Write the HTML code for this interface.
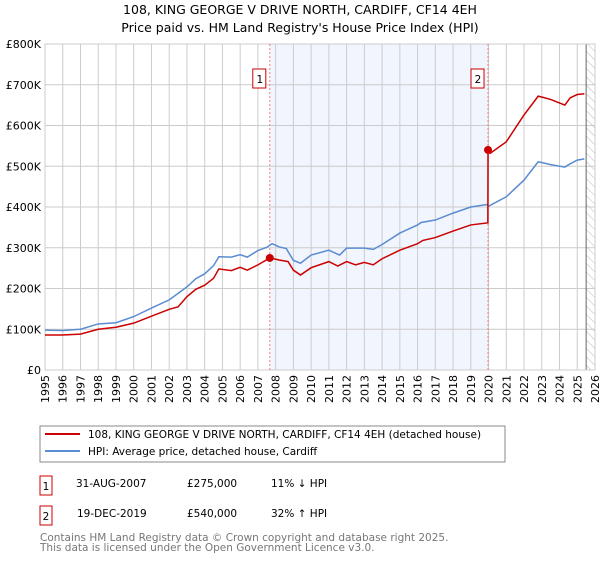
<!DOCTYPE html>
<html><head><meta charset="utf-8"><style>
body{margin:0;background:#fff;font-family:"Liberation Sans","DejaVu Sans",sans-serif;}
svg text{font-family:"DejaVu Sans","Liberation Sans",sans-serif;}
</style></head><body>
<svg id="c" width="600" height="560" xmlns="http://www.w3.org/2000/svg">
<defs><pattern id="h" width="6" height="6" patternUnits="userSpaceOnUse" patternTransform="rotate(-45)"><line x1="0" y1="0" x2="0" y2="6" stroke="#bbb" stroke-width="1"/></pattern></defs>
<text x="300" y="14" text-anchor="middle" font-size="12.5">108, KING GEORGE V DRIVE NORTH, CARDIFF, CF14 4EH</text>
<text x="300" y="32" text-anchor="middle" font-size="12.5">Price paid vs. HM Land Registry's House Price Index (HPI)</text>
<g id="plot"></g>
<rect x="40" y="426" width="465" height="36" fill="#fff" stroke="#888"/>
<line x1="45" y1="434" x2="80" y2="434" stroke="#cc0000" stroke-width="2"/>
<text x="88" y="438" font-size="10.5">108, KING GEORGE V DRIVE NORTH, CARDIFF, CF14 4EH (detached house)</text>
<line x1="45" y1="451" x2="80" y2="451" stroke="#5b8bd0" stroke-width="2"/>
<text x="88" y="455" font-size="10.5">HPI: Average price, detached house, Cardiff</text>
<g font-size="10.5">
<rect x="40" y="476" width="12" height="19" fill="#fff" stroke="#cc0000"/><text x="46" y="490" text-anchor="middle">1</text>
<text x="76" y="487">31-AUG-2007</text>
<text x="187" y="487">£275,000</text>
<text x="271" y="487">11% ↓ HPI</text>
<rect x="40" y="506" width="12" height="19" fill="#fff" stroke="#cc0000"/><text x="46" y="520" text-anchor="middle">2</text>
<text x="77" y="517">19-DEC-2019</text>
<text x="187" y="517">£540,000</text>
<text x="271" y="517">32% ↑ HPI</text>
</g>
<text x="40" y="541" font-size="10.5" fill="#777">Contains HM Land Registry data © Crown copyright and database right 2025.</text>
<text x="40" y="551" font-size="10.5" fill="#777">This data is licensed under the Open Government Licence v3.0.</text>
</svg>
<script>
const hpiYears=[1995,1996,1997,1998,1999,2000,2001,2002,2003,2003.5,2004,2004.5,2004.8,2005.5,2006,2006.4,2007,2007.5,2007.8,2008.2,2008.6,2009,2009.4,2010,2011,2011.6,2012,2013,2013.5,2014,2015,2016,2016.2,2017,2018,2019,2019.9,2020,2021,2022,2022.8,2023.5,2024.3,2024.6,2025,2025.4];
const hpiValues=[98,97,100,113,116,131,152,172,204,224,236,256,278,277,283,277,293,301,310,302,298,269,262,282,294,282,299,299,296,308,336,356,362,368,385,400,406,402,425,466,511,504,498,506,515,518];
const propYears=[1995,1996,1997,1998,1999,2000,2001,2002,2002.5,2003,2003.5,2004,2004.5,2004.8,2005.5,2006,2006.4,2007,2007.67,2008.2,2008.7,2009,2009.4,2010,2011,2011.5,2012,2012.5,2013,2013.5,2014,2015,2016,2016.3,2017,2018,2019,2019.96,2019.97,2020.1,2021,2022,2022.8,2023.5,2024.3,2024.6,2025,2025.4];
const propValues=[86,86,88,100,105,115,132,149,155,180,198,208,225,248,244,252,245,258,275,270,266,245,233,251,266,255,266,258,264,258,273,294,310,318,325,341,356,361,540,532,560,626,672,664,650,668,676,678];
const saleYears=[2007.67,2019.97];
const saleValues=[275,540];
const saleLabels=["1","2"];
const yTicks=[0,100,200,300,400,500,600,700,800];
const yTickLabels=["£0","£100K","£200K","£300K","£400K","£500K","£600K","£700K","£800K"];
const xTicks=[1995,1996,1997,1998,1999,2000,2001,2002,2003,2004,2005,2006,2007,2008,2009,2010,2011,2012,2013,2014,2015,2016,2017,2018,2019,2020,2021,2022,2023,2024,2025,2026];
const X0=45,X1=595,Y0=370,Y1=44;
const xs=y=>X0+(y-1995)/(2026-1995)*(X1-X0);
const ys=v=>Y0-v/800*(Y0-Y1);
const NS="http://www.w3.org/2000/svg";
const g=document.getElementById('plot');
function mk(t,a){const e=document.createElementNS(NS,t);for(const k in a)e.setAttribute(k,a[k]);g.appendChild(e);return e;}
let e;
e=mk('rect',{x:xs(saleYears[0]),y:Y1,width:xs(saleYears[1])-xs(saleYears[0]),height:Y0-Y1,fill:'#eef2fc',opacity:0.8});


for(let i=0;i<yTicks.length;i++){
 e=mk('line',{x1:X0,x2:X1,y1:ys(yTicks[i]),y2:ys(yTicks[i]),stroke:'#ccc'});
 
 
 e=mk('text',{x:X0-4,y:ys(yTicks[i])+4,'text-anchor':'end','font-size':'11'});e.textContent=yTickLabels[i];
 
 
}
for(const t of xTicks){
 e=mk('line',{x1:xs(t),x2:xs(t),y1:Y1,y2:Y0,stroke:'#ccc'});
 
 
 e=mk('text',{x:0,y:0,'font-size':'11','text-anchor':'end',transform:`translate(${xs(t)+4},${Y0+5}) rotate(-90)`});e.textContent=t;
 
 
}
e=mk('rect',{x:xs(2025.5),y:Y1,width:X1-xs(2025.5),height:Y0-Y1,fill:'url(#h)'});


e=mk('line',{x1:xs(2025.5),x2:xs(2025.5),y1:Y1,y2:Y0,stroke:'#666'});


e=mk('rect',{x:X0,y:Y1,width:X1-X0,height:Y0-Y1,fill:'none',stroke:'#ccc'});


for(let i=0;i<saleYears.length;i++){
 e=mk('line',{x1:xs(saleYears[i]),x2:xs(saleYears[i]),y1:Y1,y2:Y0,stroke:'#f08080','stroke-dasharray':'2,2'});
 
 
}
e=mk('polyline',{points:hpiYears.map((y,i)=>xs(y)+','+ys(hpiValues[i])).join(' '),fill:'none',stroke:'#5b8bd0','stroke-width':1.5});


e=mk('polyline',{points:propYears.map((y,i)=>xs(y)+','+ys(propValues[i])).join(' '),fill:'none',stroke:'#cc0000','stroke-width':1.5});


for(let i=0;i<saleYears.length;i++){
 e=mk('circle',{cx:xs(saleYears[i]),cy:ys(saleValues[i]),r:4,fill:'#cc0000'});
 
 
 const bx=xs(saleYears[i])-10;
 e=mk('rect',{x:bx-7,y:69,width:13,height:19,fill:'#fff',stroke:'#cc0000'});
 
 
 e=mk('text',{x:bx,y:83,'text-anchor':'middle','font-size':'10.5'});e.textContent=saleLabels[i];
 
 
}
</script>
</body></html>
